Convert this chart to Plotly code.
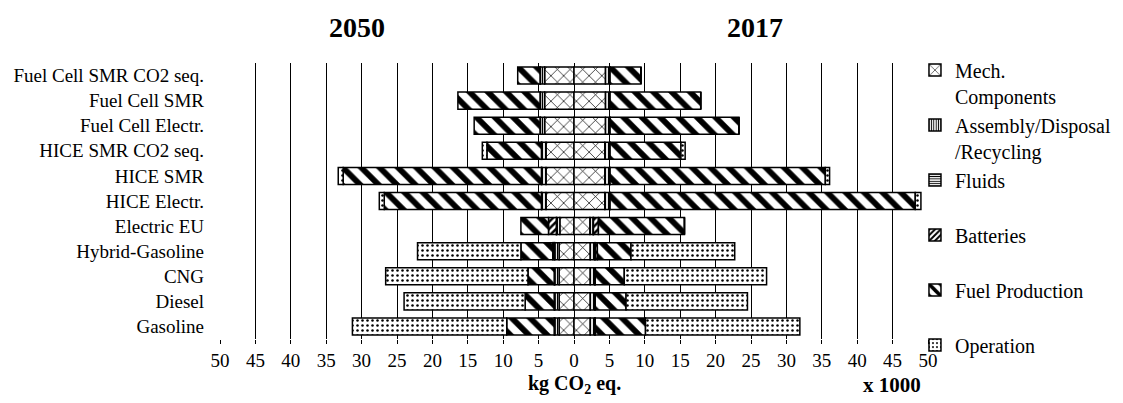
import plotly.graph_objects as go

categories = ["Fuel Cell SMR CO2 seq.", "Fuel Cell SMR", "Fuel Cell Electr.",
              "HICE SMR CO2 seq.", "HICE SMR", "HICE Electr.", "Electric EU",
              "Hybrid-Gasoline", "CNG", "Diesel", "Gasoline"]

# values in kg CO2 eq. x 1000
mech_2050 = [4.15, 4.15, 4.15, 3.95, 3.95, 3.95, 2.0, 2.1, 2.1, 2.1, 2.1]
asm_2050 = [0.6, 0.6, 0.6, 0.6, 0.6, 0.6, 0.45, 0.6, 0.6, 0.6, 0.6]
fluids_2050 = [0.05, 0.05, 0.05, 0.05, 0.05, 0.05, 0.05, 0.1, 0.1, 0.1, 0.1]
batt_2050 = [0, 0, 0, 0, 0, 0, 1.1, 0.2, 0, 0, 0]
fuel_2050 = [3.15, 11.6, 9.3, 7.7, 28.0, 22.2, 3.9, 4.5, 3.7, 4.1, 6.7]
op_2050 = [0, 0, 0, 0.65, 0.7, 0.7, 0, 14.6, 20.1, 17.1, 21.8]

mech_2017 = [4.45, 4.45, 4.45, 4.35, 4.35, 4.35, 2.25, 2.3, 2.3, 2.3, 2.3]
asm_2017 = [0.6, 0.6, 0.6, 0.7, 0.7, 0.7, 0.45, 0.6, 0.6, 0.6, 0.6]
fluids_2017 = [0.05, 0.05, 0.05, 0.05, 0.05, 0.05, 0.05, 0.1, 0.1, 0.1, 0.1]
batt_2017 = [0, 0, 0, 0, 0, 0, 0.7, 0.3, 0, 0, 0]
fuel_2017 = [4.36, 12.8, 18.2, 10.0, 30.4, 43.1, 12.15, 4.75, 4.1, 4.35, 7.1]
op_2017 = [0, 0, 0, 0.6, 0.6, 0.8, 0, 14.65, 20.1, 17.15, 21.8]

legend_names = ["Mech.<br>Components", "Assembly/Disposal<br>/Recycling",
                "Fluids<br> ", "Batteries<br> ", "Fuel Production<br> ", "Operation<br> "]

tick_vals = list(range(-50, 55, 5))
tick_text = [str(abs(v)) for v in tick_vals]

FONT = "Liberation Serif"

components = [
    (legend_names[0], mech_2050, mech_2017, dict(shape="x", size=9, solidity=0.15)),
    (legend_names[1], asm_2050, asm_2017, dict(shape="|", size=3, solidity=0.4)),
    (legend_names[2], fluids_2050, fluids_2017, dict(shape="-", size=3, solidity=0.4)),
    (legend_names[3], batt_2050, batt_2017, dict(shape="/", size=5, solidity=0.5)),
    (legend_names[4], fuel_2050, fuel_2017, dict(shape="\\", size=13, solidity=0.45)),
    (legend_names[5], op_2050, op_2017, dict(shape=".", size=5, solidity=0.2)),
]

fig = go.Figure()
for name, v50, v17, pat in components:
    p = dict(pat, fgcolor="black", bgcolor="white", fillmode="replace")
    fig.add_trace(go.Bar(
        y=categories, x=[-v for v in v50], orientation="h", name=name,
        legendgroup=name, showlegend=False,
        marker=dict(color="white", pattern=p, line=dict(color="black", width=1.5)),
    ))
    fig.add_trace(go.Bar(
        y=categories, x=v17, orientation="h", name=name,
        legendgroup=name, showlegend=True,
        marker=dict(color="white", pattern=p, line=dict(color="black", width=1.5)),
    ))

fig.update_layout(
    width=1123, height=403,
    margin=dict(l=220, r=195, t=63, b=64, autoexpand=False),
    barmode="relative", bargap=0.32,
    paper_bgcolor="white", plot_bgcolor="white",
    font=dict(family=FONT, color="black"),
    xaxis=dict(range=[-50, 50], tickvals=tick_vals, ticktext=tick_text,
               showgrid=True, gridcolor="black", gridwidth=1.3,
               zeroline=False, showline=False, automargin=False,
               ticks="outside", ticklen=4, tickcolor="black", tickwidth=1.3,
               tickfont=dict(size=19, family=FONT)),
    yaxis=dict(autorange="reversed", showgrid=False, zeroline=False, showline=False,
               automargin=False,
               ticklabelstandoff=15, tickfont=dict(size=19, family=FONT)),
    legend=dict(x=0.9816, xanchor="left", y=1.045, yanchor="top",
                bgcolor="rgba(0,0,0,0)", traceorder="normal", valign="top",
                tracegroupgap=0, itemwidth=30, maxheight=1,
                font=dict(size=20, family=FONT)),
    annotations=[
        dict(text="<b>2050</b>", x=0.1935, y=1.13, xref="paper", yref="paper",
             xanchor="center", yanchor="middle",
             showarrow=False, font=dict(size=28, family=FONT)),
        dict(text="<b>2017</b>", x=0.756, y=1.13, xref="paper", yref="paper",
             xanchor="center", yanchor="middle",
             showarrow=False, font=dict(size=28, family=FONT)),
        dict(text="<b>kg CO<sub>2</sub> eq.</b>", x=0.5, y=-0.165, xref="paper", yref="paper",
             xanchor="center", yanchor="middle",
             showarrow=False, font=dict(size=20, family=FONT)),
        dict(text="<b>x 1000</b>", x=0.949, y=-0.165, xref="paper", yref="paper",
             xanchor="center", yanchor="middle",
             showarrow=False, font=dict(size=21, family=FONT)),
    ],
)

fig.write_html("out.html", config={"displayModeBar": False},
               post_script="document.body.style.margin='0px';")
